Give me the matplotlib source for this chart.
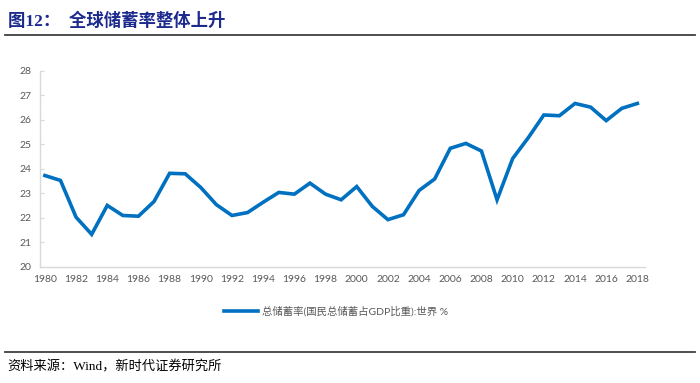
import matplotlib.pyplot as plt
from matplotlib.lines import Line2D

years = list(range(1980, 2019))
savings = [23.73, 23.53, 22.03, 21.33, 22.51, 22.10, 22.07, 22.67, 23.82, 23.80,
           23.24, 22.54, 22.10, 22.22, 22.64, 23.04, 22.97, 23.42, 22.97, 22.74,
           23.28, 22.47, 21.93, 22.13, 23.12, 23.59, 24.84, 25.04, 24.73, 22.74,
           24.42, 25.27, 26.20, 26.17, 26.67, 26.52, 25.97, 26.47, 26.67]
xticks = list(range(1980, 2019, 2))
yticks = list(range(20, 29))

title = "图12：  全球储蓄率整体上升"
series_name = "总储蓄率(国民总储蓄占GDP比重):世界 %"
source = "资料来源：Wind，新时代证券研究所"

plt.rcParams['font.family'] = ['Lato', 'Noto Sans CJK SC', 'DejaVu Sans']

fig = plt.figure(figsize=(7, 3.83), dpi=100)
ax = fig.add_axes([0.057, 0.303, 0.864, 0.512])

ax.plot(years, savings, color='#0070C0', lw=2.6, solid_joinstyle='miter')
ax.set_xlim(1979.68, 2018.47)
ax.set_ylim(20, 28)
ax.set_xticks(xticks)
ax.set_yticks(yticks)
ax.tick_params(axis='x', length=0, labelsize=7.5, labelcolor='#595959', pad=6)
ax.tick_params(axis='y', direction='in', length=3, width=0.8, color='#D9D9D9',
               labelsize=7.5, labelcolor='#595959', pad=6)
for s in ['top', 'right']:
    ax.spines[s].set_visible(False)
for s in ['left', 'bottom']:
    ax.spines[s].set_color('#D9D9D9')
    ax.spines[s].set_linewidth(1.0)

handle = Line2D([], [], color='#0070C0', lw=2.6)
fig.legend([handle], [series_name], loc='center', bbox_to_anchor=(0.48, 0.188),
           frameon=False, fontsize=7.5, labelcolor='#595959',
           handlelength=3.2, handletextpad=0.4)

fig.text(0.011, 0.945, title, fontsize=12.5, fontweight='bold', color='#1C2A8E',
         va='center', ha='left', family=['Liberation Serif', 'Noto Sans CJK SC'])
fig.add_artist(Line2D([0.007, 0.993], [0.908, 0.908], color='#404040', lw=1.3))
fig.add_artist(Line2D([0.007, 0.993], [0.082, 0.082], color='#404040', lw=1.3))
fig.text(0.011, 0.043, source, fontsize=9.5, color='black', va='center', ha='left',
         family=['Liberation Serif', 'Noto Sans CJK SC'])

fig.savefig('out.png', dpi=100)
